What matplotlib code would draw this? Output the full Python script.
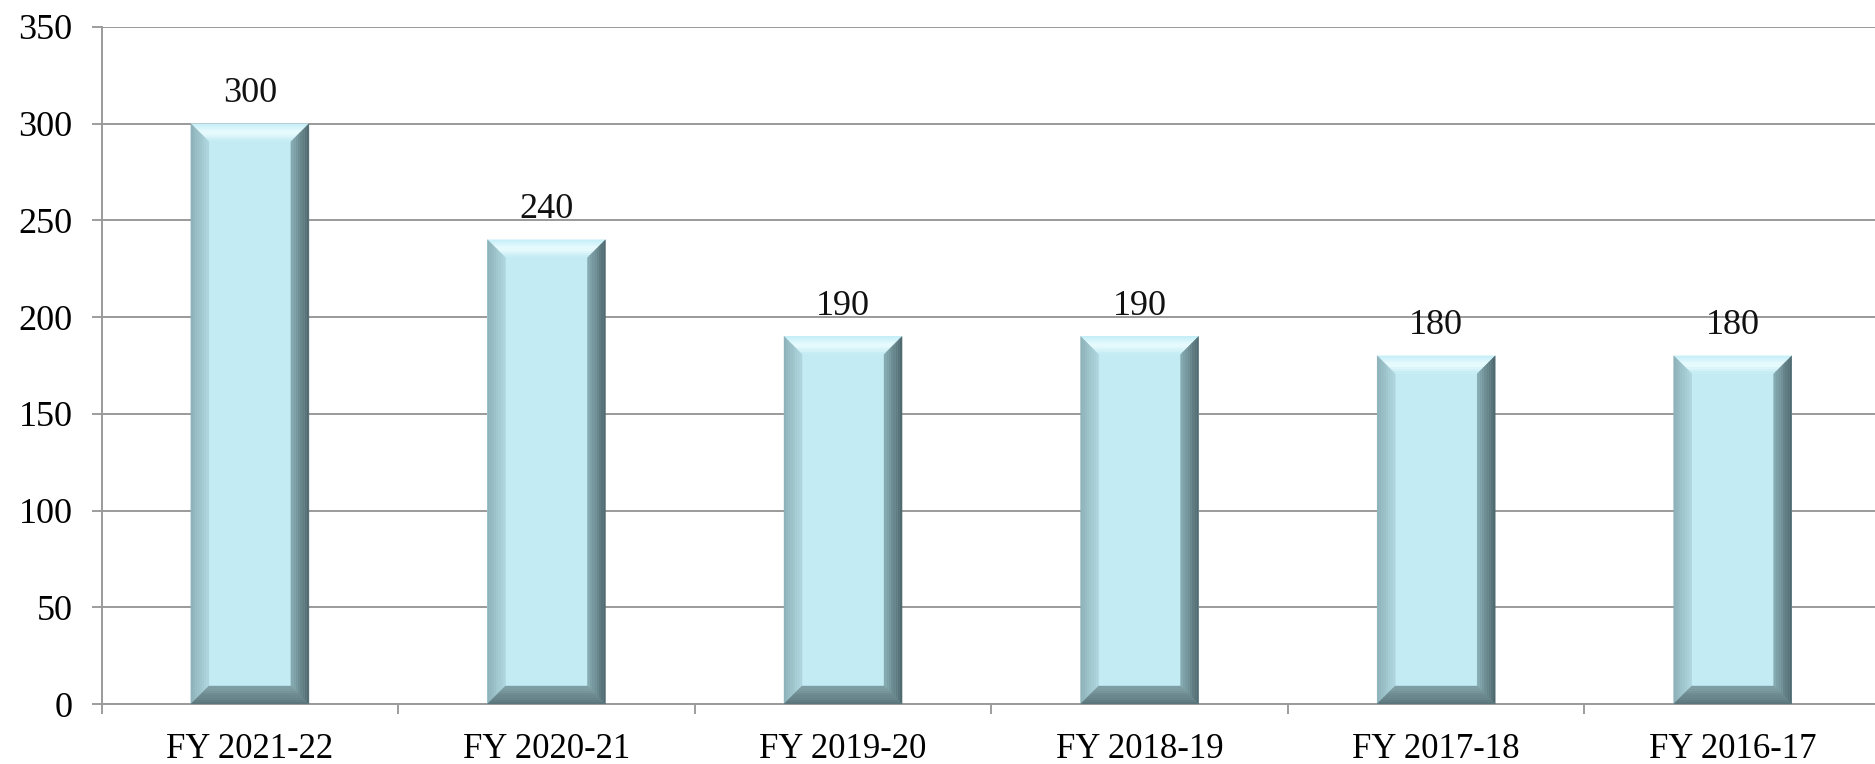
import numpy as np
import matplotlib.pyplot as plt
from matplotlib.patches import Polygon
from matplotlib.colors import to_rgb

# chart data
categories = ["FY 2021-22", "FY 2020-21", "FY 2019-20", "FY 2018-19", "FY 2017-18", "FY 2016-17"]
values = [300, 240, 190, 190, 180, 180]
y_ticks = [0, 50, 100, 150, 200, 250, 300, 350]

plt.rcParams['font.family'] = ['Liberation Serif', 'DejaVu Serif']

FACE = "#C2EBF4"
BEVEL = 18  # bevel size in pixels


def mix(c1, c2, t):
    a, b = np.array(to_rgb(c1)), np.array(to_rgb(c2))
    return tuple(a + (b - a) * t)


def bevel_side(ax, outer, inner, colors, steps=8):
    """Fill a trapezoid (outer edge -> inner edge) with a stepped gradient."""
    inv = ax.transData.inverted()
    (o1, o2), (i1, i2) = np.array(outer), np.array(inner)
    for k in range(steps):
        t0, t1 = k / steps, (k + 1) / steps
        pts = [o1 + (i1 - o1) * t0, o2 + (i2 - o2) * t0,
               o2 + (i2 - o2) * t1, o1 + (i1 - o1) * t1]
        tm = (t0 + t1) / 2
        if len(colors) == 2:
            col = mix(colors[0], colors[1], tm)
        else:
            col = mix(colors[0], colors[1], tm * 2) if tm < 0.5 else mix(colors[1], colors[2], (tm - 0.5) * 2)
        ax.add_patch(Polygon(inv.transform(pts), closed=True, facecolor=col,
                             edgecolor=col, linewidth=0.3, zorder=3))


fig = plt.figure(figsize=(18.75, 7.64), dpi=100)
ax = fig.add_axes([0.0542, 0.0785, 0.949, 0.8862])

x = np.arange(len(categories))
bars = ax.bar(x, values, width=0.398, color=FACE, zorder=2)
ax.set_xlim(-0.5, len(categories) - 0.5)
ax.set_ylim(0, 350)

# bevel edges drawn in pixel space around every bar
for bar in bars:
    x0, y0 = bar.get_x(), bar.get_y()
    x1, y1 = x0 + bar.get_width(), y0 + bar.get_height()
    (px0, py0), (px1, py1) = ax.transData.transform([(x0, y0), (x1, y1)])
    b = BEVEL
    bevel_side(ax, [(px0, py1), (px1, py1)], [(px0 + b, py1 - b), (px1 - b, py1 - b)],
               ["#c4eef7", "#ecfdff", "#c2ebf4"])
    bevel_side(ax, [(px0, py0), (px0, py1)], [(px0 + b, py0 + b), (px0 + b, py1 - b)],
               ["#8cafb6", "#b0d8e0"])
    bevel_side(ax, [(px1, py0), (px1, py1)], [(px1 - b, py0 + b), (px1 - b, py1 - b)],
               ["#4c666b", "#88adb4"])
    bevel_side(ax, [(px0, py0), (px1, py0)], [(px0 + b, py0 + b), (px1 - b, py0 + b)],
               ["#587378", "#7fa0a6"])

for xi, v in zip(x, values):
    ax.annotate(str(v), (xi, v), xytext=(0, 10), textcoords="offset points",
                ha="center", va="bottom", fontsize=26, color="#111111")

ax.set_yticks(y_ticks)
ax.set_yticklabels([str(t) for t in y_ticks], fontsize=26)
ax.set_xticks(x)
ax.set_xticklabels(categories, fontsize=25)
ax.set_xticks(np.arange(-0.5, len(categories), 1), minor=True)
ax.tick_params(axis="x", which="major", length=0, pad=21)
ax.tick_params(axis="x", which="minor", length=7, width=1.2, color="#8c8c8c")
ax.tick_params(axis="y", length=7, width=1.2, color="#8c8c8c", pad=14)

ax.grid(axis="y", color="#9a9a9a", linewidth=1.4, zorder=0)
ax.set_axisbelow(True)
for side in ["top", "right"]:
    ax.spines[side].set_visible(False)
for side in ["left", "bottom"]:
    ax.spines[side].set_color("#9a9a9a")
    ax.spines[side].set_linewidth(1.4)

fig.savefig("out.png", dpi=100)
